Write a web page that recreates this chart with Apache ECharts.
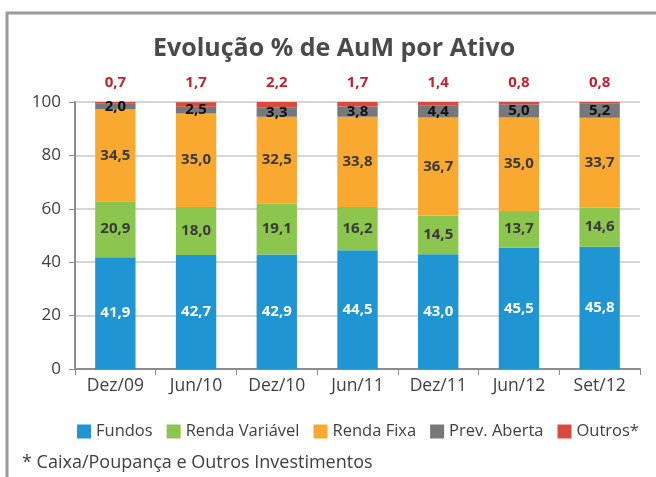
<!DOCTYPE html>
<html><head><meta charset="utf-8">
<script src="https://cdn.jsdelivr.net/npm/echarts@6/dist/echarts.min.js"></script>
<style>html,body{margin:0;padding:0;background:#fff}#c{width:656px;height:477px}</style>
</head><body><div id="c"></div>
<script>
const categories = ['Dez/09','Jun/10','Dez/10','Jun/11','Dez/11','Jun/12','Set/12'];
const fundos = [41.9,42.7,42.9,44.5,43.0,45.5,45.8];
const rendaVariavel = [20.9,18.0,19.1,16.2,14.5,13.7,14.6];
const rendaFixa = [34.5,35.0,32.5,33.8,36.7,35.0,33.7];
const prevAberta = [2.0,2.5,3.3,3.8,4.4,5.0,5.2];
const outros = [0.7,1.7,2.2,1.7,1.4,0.8,0.8];
const yTicks = [0,20,40,60,80,100];

const FONT = '"Open Sans", "Noto Sans", sans-serif';
const fmt = p => p.value.toFixed(1).replace('.', ',');
function ser(name, data, color, label) {
  return {name, type:'bar', stack:'t', data, barWidth:'50%',
    itemStyle:{color}, label:Object.assign({show:true, formatter:fmt, fontFamily:FONT, fontWeight:'bold', fontSize:15}, label)};
}
const chart = echarts.init(document.getElementById('c'));
chart.setOption({
  animation:false,
  title:{text:'Evolução % de AuM por Ativo', left:148, top:31,
    textStyle:{fontFamily:FONT, fontSize:25, fontWeight:'bold', color:'#4a4a4a'}},
  graphic:[
    {type:'rect', shape:{x:7, y:13, width:720, height:520}, style:{fill:'none', stroke:'#9a9a9a', lineWidth:3}},
    {type:'text', left:22, top:454, style:{text:'* Caixa/Poupança e Outros Investimentos', fontFamily:FONT, fontSize:18, fill:'#404040'}}
  ],
  legend:{left:72, top:418, itemWidth:14, itemHeight:14, itemGap:14, icon:'rect',
    textStyle:{fontFamily:FONT, fontSize:16.5, color:'#404040'},
    data:['Fundos','Renda Variável','Renda Fixa','Prev. Aberta','Outros*']},
  grid:{left:75, right:16, top:102, bottom:108},
  xAxis:{type:'category', data:categories,
    axisLine:{lineStyle:{color:'#8c8c8c', width:2}},
    axisTick:{show:true, length:6, lineStyle:{color:'#8c8c8c'}},
    axisLabel:{fontFamily:FONT, fontSize:17.5, color:'#404040', margin:8}},
  yAxis:{type:'value', min:0, max:100, interval:20,
    axisLine:{show:true, lineStyle:{color:'#8c8c8c', width:2}},
    axisTick:{show:true, length:6, lineStyle:{color:'#8c8c8c'}},
    splitLine:{lineStyle:{color:'#c8c8c8', width:1.5}},
    axisLabel:{fontFamily:FONT, fontSize:17, color:'#404040', margin:14,
      formatter:v => yTicks.includes(v) ? String(v) : ''}},
  series:[
    ser('Fundos', fundos, '#1f95d3', {position:'inside', color:'#fff'}),
    ser('Renda Variável', rendaVariavel, '#8dc64f', {position:'inside', color:'#3a3a3a'}),
    ser('Renda Fixa', rendaFixa, '#f9a92f', {position:'inside', color:'#3a3a3a'}),
    ser('Prev. Aberta', prevAberta, '#76797b', {position:'inside', color:'#111'}),
    ser('Outros*', outros, '#d94a3e', {position:'top', distance:12, color:'#c8202a'})
  ]
});
</script></body></html>
